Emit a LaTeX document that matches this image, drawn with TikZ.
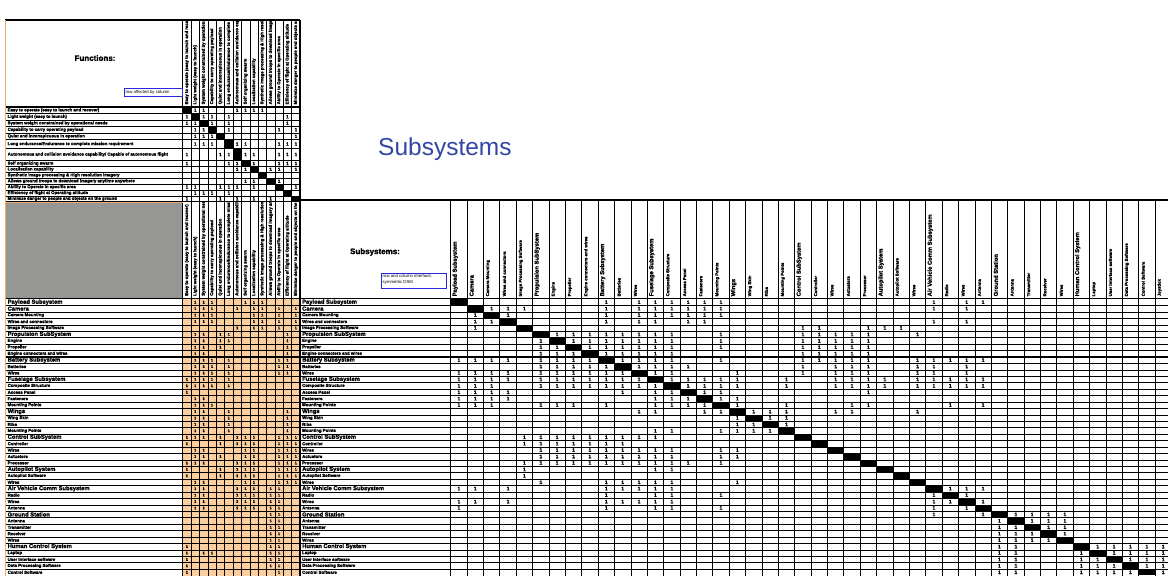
\documentclass[tikz,border=0pt]{standalone}
\usepackage{fontspec}
\setmainfont{Liberation Sans}[BoldFeatures={FakeBold=1.6}]
\definecolor{cellorange}{RGB}{251,206,158}
\definecolor{blockgray}{RGB}{150,150,146}
\definecolor{edgeorange}{RGB}{238,170,110}
\definecolor{notebox}{RGB}{40,40,220}
\definecolor{titleblue}{RGB}{52,70,165}
\begin{document}
\begin{tikzpicture}[x=1pt,y=-1pt,
  thin grid/.style={line width=0.45pt,black},
  group grid/.style={line width=0.9pt,black},
  thick grid/.style={line width=1.2pt,black},
  lbl/.style={inner sep=0pt,anchor=west,font=\fontsize{4.3}{5}\selectfont\bfseries},
  s0/.style={lbl},
  s1/.style={inner sep=0pt,anchor=west,font=\fontsize{5.8}{6}\selectfont\bfseries},
  one/.style={inner sep=0pt,font=\fontsize{5}{5}\selectfont\bfseries},
  tiny one/.style={inner sep=0pt,font=\fontsize{3.8}{4}\selectfont\bfseries},
  note/.style={draw=notebox,line width=0.8pt,fill=white},
  note text/.style={inner sep=0pt,anchor=west,align=left,font=\fontsize{4.3}{5.6}\selectfont},
]
\useasboundingbox (0,0) rectangle (1168,576);
\fill[white] (0,0) rectangle (1168,576);

% geometry: function columns, subsystem columns, subsystem rows
\def\fx{182.7}\def\fw{8.38}
\def\sx{450.7}\def\sw{16.38}
\def\ry{299}\def\rh{6.43}

% functions: index / top / bottom / text
\def\funclist{1/107/113.5/{Easy to operate (easy to launch and recover)},
2/113.5/120/{Light weight (easy to launch)},
3/120/126.5/{System weight constrained by operational needs},
4/126.5/133/{Capability to carry operating payload},
5/133/139.5/{Quiet and inconspicuous in operation},
6/139.5/148.5/{Long endurance/Endurance to complete mission requirement},
7/148.5/160.5/{Autonomous and collision avoidance capability/ Capable of autonomous flight},
8/160.5/166.4/{Self organizing swarm},
9/166.4/172.3/{Localization capability},
10/172.3/178.2/{Synthetic image processing \& High resolution imagery},
11/178.2/184.1/{Allows ground troops to download imagery anytime anywhere},
12/184.1/190/{Ability to Operate in specific area},
13/190/195.9/{Efficiency of flight at Operating altitude},
14/195.9/201.5/{Minimize danger to people and objects on the ground}}

% subsystems: index / header flag / text
\def\sublist{1/1/Payload Subsystem, 2/1/Camera, 3/0/Camera Mounting, 4/0/Wires and connectors,
5/0/Image Processing Software, 6/1/Propulsion SubSystem, 7/0/Engine, 8/0/Propeller,
9/0/Engine connectors and wires, 10/1/Battery Subsystem, 11/0/Batteries, 12/0/Wires,
13/1/Fuselage Subsystem, 14/0/Composite Structure, 15/0/Access Panel, 16/0/Fasteners,
17/0/Mounting Points, 18/1/Wings, 19/0/Wing Skin, 20/0/Ribs, 21/0/Mounting Points,
22/1/Control SubSystem, 23/0/Controller, 24/0/Wires, 25/0/Actuators, 26/0/Processor,
27/1/Autopilot System, 28/0/Autopilot Software, 29/0/Wires, 30/1/Air Vehicle Comm Subsystem,
31/0/Radio, 32/0/Wires, 33/0/Antenna, 34/1/Ground Station, 35/0/Antenna, 36/0/Transmitter,
37/0/Receiver, 38/0/Wires, 39/1/Human Control System, 40/0/Laptop, 41/0/User Interface software,
42/0/Data Processing Software, 43/0/Control Software, 44/0/Joystick}

% ---------------- fills ----------------
\fill[blockgray] (6,201.5) rectangle (\fx,298.5);
\fill[cellorange] (\fx,298.5) rectangle (300,576);
% function DSM diagonal
\foreach \i/\ya/\yb/\t in \funclist
  \fill[black] ({\fx+(\i-1)*\fw},\ya) rectangle ({\fx+\i*\fw},\yb);
% subsystem DSM diagonal
\foreach \k in {1,...,43}
  \fill[black] ({\sx+(\k-1)*\sw},{\ry+(\k-1)*\rh}) rectangle ({\sx+\k*\sw},{\ry+\k*\rh});

% ---------------- grid: functions block ----------------
\foreach \i/\ya/\yb/\t in \funclist
  \draw[thin grid] (6,\yb) -- (300,\yb);
\foreach \k in {1,...,13}
  \draw[thin grid] ({\fx+\k*\fw},20) -- ({\fx+\k*\fw},576);
\draw[thick grid] (5,20) -- (300,20);
\draw[thick grid] (5,107) -- (300,107);
\draw[thick grid] (\fx,20) -- (\fx,576);
\draw[thick grid] (300,20) -- (300,576);

% ---------------- grid: subsystem rows ----------------
\foreach \k in {1,...,42}
  \draw[thin grid] (6,{\ry+\k*\rh}) -- (1168,{\ry+\k*\rh});
\foreach \k in {5,9,12,17,21,26,29,33,38}
  \draw[group grid] (6,{\ry+\k*\rh}) -- (1168,{\ry+\k*\rh});
\foreach \k in {1,...,44}
  \draw[line width=0.7pt,black] ({\sx+\k*\sw},200) -- ({\sx+\k*\sw},576);
\foreach \k in {5,9,12,17,21,26,29,33,38}
  \draw[group grid] ({\sx+\k*\sw},200) -- ({\sx+\k*\sw},576);
\draw[thick grid] (300,200) -- (1168,200);
\draw[thick grid] (5,298.5) -- (1168,298.5);
\draw[thick grid] (\sx,200) -- (\sx,576);
\draw[line width=0.8pt,edgeorange] (6,202.2) -- (\fx,202.2);
\draw[line width=1.6pt,edgeorange] (5.5,20) -- (5.5,576);

% ---------------- function labels ----------------
\begin{scope}
  \clip (6,106) rectangle (\fx,202);
  \foreach \i/\ya/\yb/\t in \funclist
    \node[lbl] (fr\i) at (7.5,{(\ya+\yb)/2}) {\t};
\end{scope}
\begin{scope}
  \clip (\fx,21) rectangle (300,106);
  \foreach \i/\ya/\yb/\t in \funclist
    \node[lbl,rotate=90] (fc\i) at ({\fx+(\i-0.5)*\fw},104.5) {\t};
\end{scope}
\begin{scope}
  \clip (\fx,202.5) rectangle (300,297.5);
  \foreach \i/\ya/\yb/\t in \funclist
    \node[lbl,rotate=90] (fd\i) at ({\fx+(\i-0.5)*\fw},296) {\t};
\end{scope}

% ---------------- subsystem labels ----------------
\foreach \k/\h/\t in \sublist {
  \ifnum\k<44
    \node[s\h] (la\k) at (7.5,{\ry+(\k-0.5)*\rh}) {\t};
    \node[s\h] (lb\k) at (302,{\ry+(\k-0.5)*\rh}) {\t};
  \fi
  \node[s\h,rotate=90] (lc\k) at ({\sx+(\k-1)*\sw+4.5},296.5) {\t};
}

% ---------------- titles and notes ----------------
\node[inner sep=0pt,font=\fontsize{8}{9}\selectfont\bfseries] (ftitle) at (95,58) {Functions:};
\node[inner sep=0pt,font=\fontsize{8}{9}\selectfont\bfseries] (stitle) at (375,252) {Subsystems:};
\node[anchor=base west,inner sep=0pt,text=titleblue,font=\fontsize{24.5}{26}\selectfont] (bigtitle) at (378,155) {Subsystems};
\draw[note] (124,88.3) rectangle (\fx,96.7);
\node[note text] (fnote) at (125.3,92.5) {row affected by column};
\draw[note] (381,273) rectangle (446,288.5);
\node[note text,anchor=north west] (snote) at (382.5,274.2) {row and column interface;\\symmetric DSM};

% ---------------- function DSM marks: row centre / columns ----------------
\foreach \y/\cl in {110.25/{2,3,7,8,9,10}, 116.75/{1,3,4,6,13}, 123.25/{1,2,4,6,13},
  129.75/{2,3,6,12,14}, 136.25/{2,3,4,14}, 144/{2,3,4,7,8,12,13,14},
  154.5/{1,5,6,8,9,12,13,14}, 163.45/{1,6,7,9,12,13,14}, 169.35/{7,8,11,12,14},
  181.15/{8,9,12}, 187.05/{1,2,5,6,7,9,14}, 192.95/{2,3,4,6}, 198.7/{1,5,7,9,11}}
  \foreach \c in \cl
    \node[one,font=\fontsize{4.6}{5}\selectfont\bfseries] at ({\fx+(\c-0.5)*\fw},\y) {1};

% ---------------- subsystem x function marks ----------------
\foreach \r/\cl in {1/{2,3,4,8,9,10}, 2/{2,3,4,7,9,10,12,14}, 3/{2,3,4,9,10,12,14},
  4/{2,3,4,9,10,12,14}, 5/{7,9,10,12,14}, 6/{2,3,5,6,13}, 7/{2,3,5,6,13}, 8/{2,3,5,13},
  9/{2,3,13}, 10/{2,3,4,6,12,13}, 11/{2,3,4,6,12,13}, 12/{2,3,4,6,12,13},
  13/{1,2,3,4,6}, 14/{1,2,3,4,6}, 15/{1}, 16/{2,3}, 17/{2,3,4}, 18/{2,3,6,13},
  19/{2,3,6,13}, 20/{2,3,6,13}, 21/{2,3,6,13}, 22/{1,2,3,5,7,8,9,12,13,14},
  23/{1,5,7,8,9,12,13,14}, 24/{2,3,8,9,12,13,14}, 25/{2,3,5,8,9,12,13,14},
  26/{1,2,3,7,8,9,12,13,14}, 27/{1,5,7,8,9,12,13,14}, 28/{1,5,7,8,9,12,13,14},
  29/{2,3,8,9,12,13,14}, 30/{2,3,7,8,9,11,12}, 31/{2,3,7,8,9,11,12},
  32/{2,3,7,8,9,11,12}, 33/{2,3,7,8,9,11,12}, 34/{11,12}, 35/{11,12}, 36/{11,12},
  37/{11,12}, 38/{11,12}, 39/{1,11,12}, 40/{1,3,4,11,12}, 41/{1,11,12}, 42/{1,11,12},
  43/{1,12}}
  \foreach \c in \cl
    \node[tiny one] (o-\r-\c) at ({\fx+(\c-0.5)*\fw},{\ry+(\r-0.5)*\rh}) {1};

% ---------------- subsystem DSM marks ----------------
\foreach \r/\cl in {1/{10,12,13,14,15,16,17,30,32,33},
  2/{3,4,5,10,12,13,14,15,16,17,30,32},
  3/{2,4,10,12,13,14,15,16,17},
  4/{2,3,10,12,13,15,16,30,32},
  5/{2,22,23,26,27,28},
  6/{7,8,9,10,11,12,13,14,17,22,23,24,25,26,29},
  7/{6,8,9,10,11,12,13,14,17,22,23,24,25,26},
  8/{6,7,9,10,11,12,13,14,17,22,23,24,25,26},
  9/{6,7,8,10,11,12,13,14,22,23,24,25,26},
  10/{1,2,3,4,6,7,8,9,11,12,13,14,17,22,23,24,25,26,29,30,31,32,33},
  11/{6,7,8,9,10,12,13,14,15,22,24,25,26,29,30,32},
  12/{1,2,3,4,6,7,8,9,10,11,13,14,18,22,24,25,26,29,30,32},
  13/{1,2,3,4,6,7,8,9,10,11,12,14,15,16,17,18,21,24,25,26,27,29,30,31,32,33},
  14/{1,2,3,6,7,8,9,10,11,12,13,15,16,17,18,21,24,25,26,27,29,30,31,32,33},
  15/{1,2,3,4,11,13,14,16,17,26},
  16/{1,2,3,4,13,14,15,17,18},
  17/{1,2,3,6,7,8,10,13,14,15,16,18,21,25,26,31,33},
  18/{12,13,16,17,19,20,21,24,25,29},
  19/{18,20,21}, 20/{18,19,21}, 21/{13,14,17,18,19,20},
  22/{5,6,7,8,9,10,11,12,13},
  23/{5,6,7,8,9,10,11},
  24/{6,7,8,9,10,11,12,13,14,17,18},
  25/{6,7,8,9,10,11,12,13,14,17,18},
  26/{5,6,7,8,9,10,11,12,13,14,15,17},
  27/{5,13,14}, 28/{5}, 29/{6,10,11,12,13,14,18},
  30/{1,2,4,10,11,12,13,14,31,32,33},
  31/{10,13,14,17,30,32},
  32/{1,2,4,10,11,12,13,14,30,31,33},
  33/{1,10,13,14,17,30,32},
  34/{30,33,35,36,37,38}, 35/{34,36,37,38}, 36/{34,35,37,38}, 37/{34,35,36,38}, 38/{34,35,36,37},
  39/{34,35,40,41,42,43,44}, 40/{34,35,39,41,42,43,44}, 41/{34,35,39,40,42,43,44},
  42/{34,35,39,40,41,43,44}, 43/{34,35,39,40,41,42,44}}
  \foreach \c in \cl
    \node[one] (d-\r-\c) at ({\sx+(\c-0.5)*\sw},{\ry+(\r-0.5)*\rh}) {1};
\end{tikzpicture}
\end{document}
